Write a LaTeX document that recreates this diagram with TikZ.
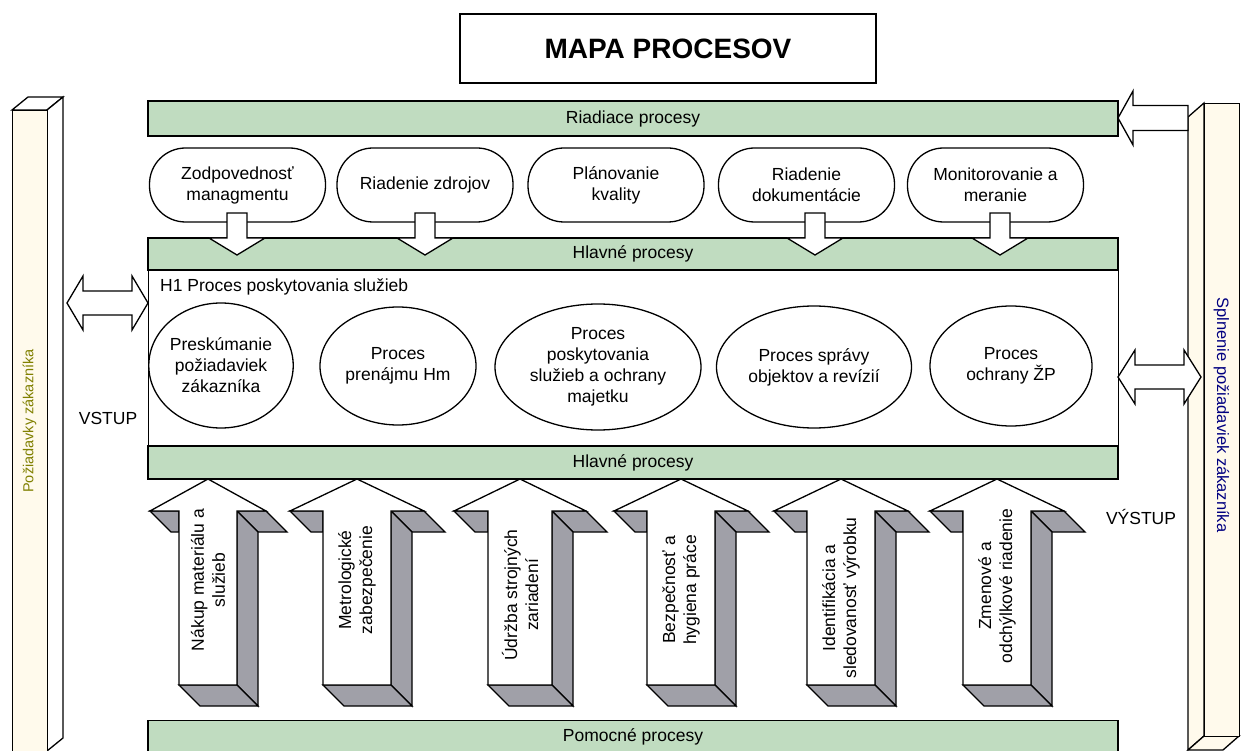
\documentclass[tikz,border=0pt]{standalone}
\usepackage{fontspec}
\setmainfont{Liberation Sans}
\usetikzlibrary{shapes.geometric}

\definecolor{barfill}{RGB}{192,220,192}
\definecolor{creamfill}{RGB}{255,250,236}
\definecolor{shadegray}{RGB}{160,160,168}
\definecolor{olivetext}{RGB}{128,128,0}
\definecolor{navytext}{RGB}{0,0,128}

\newcommand\mapfont{\fontsize{17.5}{21}\selectfont}

% 3D block arrow pointing up: #1 name, #2 centre x, #3 shaft half width,
% #4 head half width, #5 label y, #6 label
\newcommand\UpBlock[6]{%
  \begin{scope}[shift={(#2,0)}]
    \filldraw[outline, fill=shadegray] (-#4,511) -- (-#3,511) -- (-#3,532) -- ({-#4+21},532) -- cycle;
    \filldraw[outline, fill=shadegray] (#3,511) -- (#4,511) -- ({#4+21},532) -- ({#3+21},532) -- cycle;
    \filldraw[outline, fill=shadegray] (#3,511) -- ({#3+21},532) -- ({#3+21},706) -- (#3,685) -- cycle;
    \filldraw[outline, fill=shadegray] (-#3,685) -- (#3,685) -- ({#3+21},706) -- ({-#3+21},706) -- cycle;
    \filldraw[outline, fill=white] (0,479) -- (#4,511) -- (#3,511) -- (#3,685) -- (-#3,685)
      -- (-#3,511) -- (-#4,511) -- cycle;
    \node[arrowtext] (#1) at (0,#5) {#6};
  \end{scope}}

% small block arrow from a control process down into the main bar
\newcommand\DownBlock[1]{%
  \filldraw[outline, fill=white, shift={(#1,0)}] (-10,213) -- (10,213) -- (10,238) -- (28,238)
    -- (0,255) -- (-28,238) -- (-10,238) -- cycle;}

\tikzset{
  outline/.style={draw=black, line width=1.3pt},
  bar/.style={outline, fill=barfill, minimum width=970pt, inner sep=0pt, font=\mapfont},
  ctrl/.style={outline, fill=white, rounded corners=36pt, minimum width=176pt,
    minimum height=74pt, align=center, inner sep=0pt, font=\mapfont},
  proc/.style={outline, fill=white, ellipse, inner sep=0pt, align=center, font=\mapfont},
  arrowtext/.style={rotate=90, align=center, inner sep=0pt, font=\mapfont},
  plain/.style={inner sep=0pt, font=\mapfont}
}

\begin{document}
\begin{tikzpicture}[x=1pt, y=-1pt]
\useasboundingbox (0,0) rectangle (1243,751);

% title
\node[outline, minimum width=416pt, minimum height=69pt, inner sep=0pt,
  font=\bfseries\fontsize{28}{32}\selectfont] (title) at (668,48.5) {MAPA PROCESOV};

% left column: customer requirements
\filldraw[outline, fill=white] (12,110) -- (28,97) -- (63,97) -- (47,110) -- cycle;
\filldraw[outline, fill=white] (47,110) -- (63,97) -- (63,738) -- (47,751) -- cycle;
\node[outline, fill=creamfill, minimum width=35pt, minimum height=660pt, inner sep=0pt,
  anchor=north west] (leftcol) at (12,110) {};
\node[rotate=90, text=olivetext, inner sep=0pt, font=\fontsize{14.5}{16}\selectfont]
  (lefttext) at (29.5,421) {Požiadavky zákazníka};

% right column: fulfilled requirements
\filldraw[outline, fill=creamfill] (1188,117) -- (1204,103) -- (1204,736) -- (1188,750) -- cycle;
\filldraw[outline, fill=creamfill] (1188,750) -- (1204,736) -- (1239,736) -- (1223,750) -- cycle;
\node[outline, fill=creamfill, minimum width=35pt, minimum height=633pt, inner sep=0pt,
  anchor=north west] (rightcol) at (1204,103) {};
\node[rotate=-90, text=navytext, inner sep=0pt, font=\fontsize{16.5}{18}\selectfont]
  (righttext) at (1221.5,415) {Splnenie požiadaviek zákazníka};

% management processes
\node[bar, minimum height=35pt] (riadiace) at (633,118.5) {Riadiace procesy};
\node[ctrl] (c1) at (237.5,185) {Zodpovednosť\\managmentu};
\node[ctrl] (c2) at (425,185) {Riadenie zdrojov};
\node[ctrl] (c3) at (616,185) {Plánovanie\\kvality};
\node[ctrl] (c4) at (806.5,185) {Riadenie\\dokumentácie};
\node[ctrl] (c5) at (995.5,185) {Monitorovanie a\\meranie};

% main processes frame
\node[outline, fill=white, minimum width=970pt, minimum height=241pt, inner sep=0pt,
  anchor=north west] (mainframe) at (148,238) {};
\node[bar, minimum height=32pt] (hlavne1) at (633,254) {Hlavné procesy};
\node[bar, minimum height=33pt] (hlavne2) at (633,462.5) {Hlavné procesy};
\node[plain, anchor=west] (h1) at (160,287) {H1 Proces poskytovania služieb};

\node[proc, minimum width=142pt, minimum height=125pt] (p1) at (221,365.5) {Preskúmanie\\požiadaviek\\zákazníka};
\node[proc, minimum width=156pt, minimum height=118pt] (p2) at (398,366) {Proces\\prenájmu Hm};
\node[proc, minimum width=206pt, minimum height=126pt] (p3) at (598,367) {Proces\\poskytovania\\služieb a ochrany\\majetku};
\node[proc, minimum width=195pt, minimum height=122pt] (p4) at (814,367) {Proces správy\\objektov a revízií};
\node[proc, minimum width=162pt, minimum height=120pt] (p5) at (1011,366) {Proces\\ochrany ŽP};

\DownBlock{237}
\DownBlock{425}
\DownBlock{815}
\DownBlock{1000}

% support processes
\node[bar, minimum height=36pt, anchor=north] (pomocne) at (633,720) {};
\node[plain] (pomocnetext) at (633,737) {Pomocné procesy};

\UpBlock{s1}{208}{29}{58}{580}{Nákup materiálu a\\služieb}
\UpBlock{s2}{357}{34}{67}{580}{Metrologické\\zabezpečenie}
\UpBlock{s3}{520}{32}{66}{595}{Údržba strojných\\zariadení}
\UpBlock{s4}{681}{34}{67}{590}{Bezpečnosť a\\hygiena práce}
\UpBlock{s5}{841}{34}{67}{598}{Identifikácia a\\sledovanosť výrobku}
\UpBlock{s6}{997}{34}{67}{586}{Zmenové a\\odchýlkové riadenie}

% input / output arrows
\filldraw[outline, fill=white] (67,303) -- (83,276) -- (83,291) -- (132,291) -- (132,276)
  -- (148,303) -- (132,330) -- (132,315) -- (83,315) -- (83,330) -- cycle;
\node[plain] (vstup) at (108,418) {VSTUP};

\filldraw[outline, fill=white] (1118,377) -- (1135,350) -- (1135,365) -- (1184,365) -- (1184,350)
  -- (1201,377) -- (1184,404) -- (1184,389) -- (1135,389) -- (1135,404) -- cycle;
\node[plain] (vystup) at (1141,517) {VÝSTUP};

\filldraw[outline, fill=white] (1118,118) -- (1133,91) -- (1133,105.5) -- (1188,105.5)
  -- (1188,130.5) -- (1133,130.5) -- (1133,145) -- cycle;
\end{tikzpicture}
\end{document}
